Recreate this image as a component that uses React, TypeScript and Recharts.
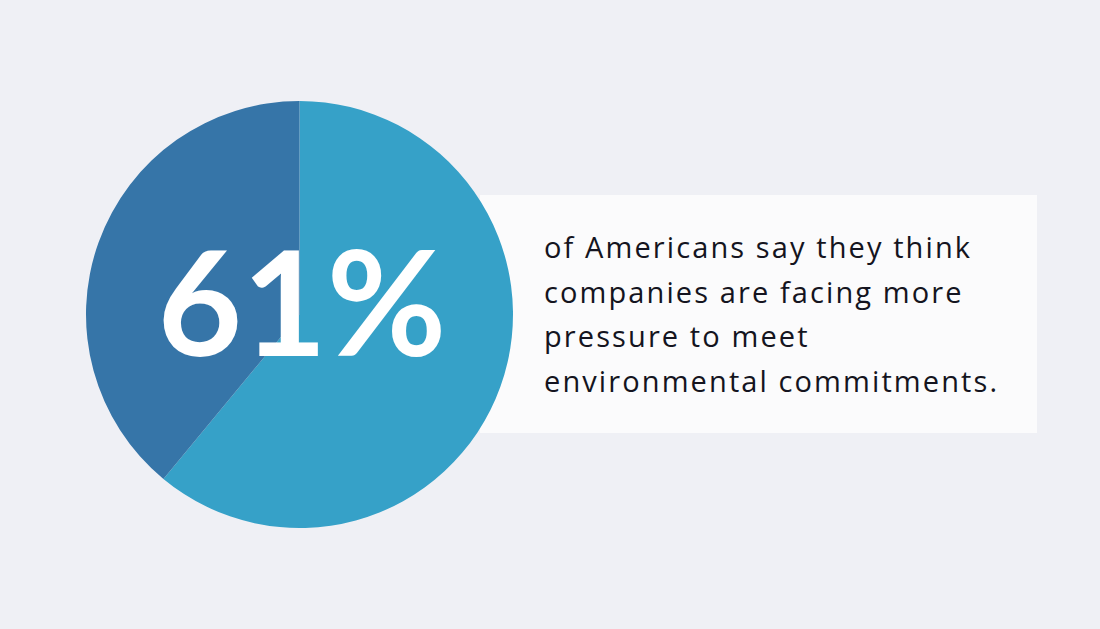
import React from "react";
import { PieChart, Pie, Cell } from "recharts";

const categories = ["Facing more pressure", "Other"];
const values = [61, 39];
const colors = ["#36a1c8", "#3675a8"];
const bigLabel = "61%";
const textLines = [
  "of Americans say they think",
  "companies are facing more",
  "pressure to meet",
  "environmental commitments.",
];

const data = categories.map((name, i) => ({ name, value: values[i] }));

const W = 1100;
const H = 629;

export default function App() {
  return (
    <div
      style={{
        position: "absolute",
        left: 0,
        top: 0,
        width: W,
        height: H,
        background: "#eff0f5",
        overflow: "hidden",
      }}
    >
      <div
        style={{
          position: "absolute",
          left: 480,
          top: 195,
          width: 557,
          height: 238,
          background: "#fbfbfc",
        }}
      />
      <div
        style={{
          position: "absolute",
          left: 544,
          top: 225,
          fontFamily: "'Open Sans', sans-serif",
          fontSize: 29,
          lineHeight: "44.5px",
          color: "#141420",
          letterSpacing: "2.1px",
          whiteSpace: "nowrap",
        }}
      >
        {textLines.map((l, i) => (
          <div key={i}>{l}</div>
        ))}
      </div>
      <div style={{ position: "absolute", left: 0, top: 0 }}>
        <PieChart width={W} height={H} margin={{ top: 0, right: 0, bottom: 0, left: 0 }}>
          <Pie
            data={data}
            dataKey="value"
            nameKey="name"
            cx={299.5}
            cy={314.5}
            outerRadius={213.5}
            innerRadius={0}
            startAngle={90}
            endAngle={-270}
            stroke="none"
            isAnimationActive={false}
          >
            {data.map((d, i) => (
              <Cell key={d.name} fill={colors[i]} />
            ))}
          </Pie>
        </PieChart>
      </div>
      <svg
        width={W}
        height={H}
        style={{ position: "absolute", left: 0, top: 0, pointerEvents: "none" }}
      >
        <text
          x={302}
          y={356}
          textAnchor="middle"
          fill="#ffffff"
          fontFamily="Lato, 'Open Sans', sans-serif"
          fontWeight={700}
          fontSize={146}
        >
          {bigLabel}
        </text>
      </svg>
    </div>
  );
}
